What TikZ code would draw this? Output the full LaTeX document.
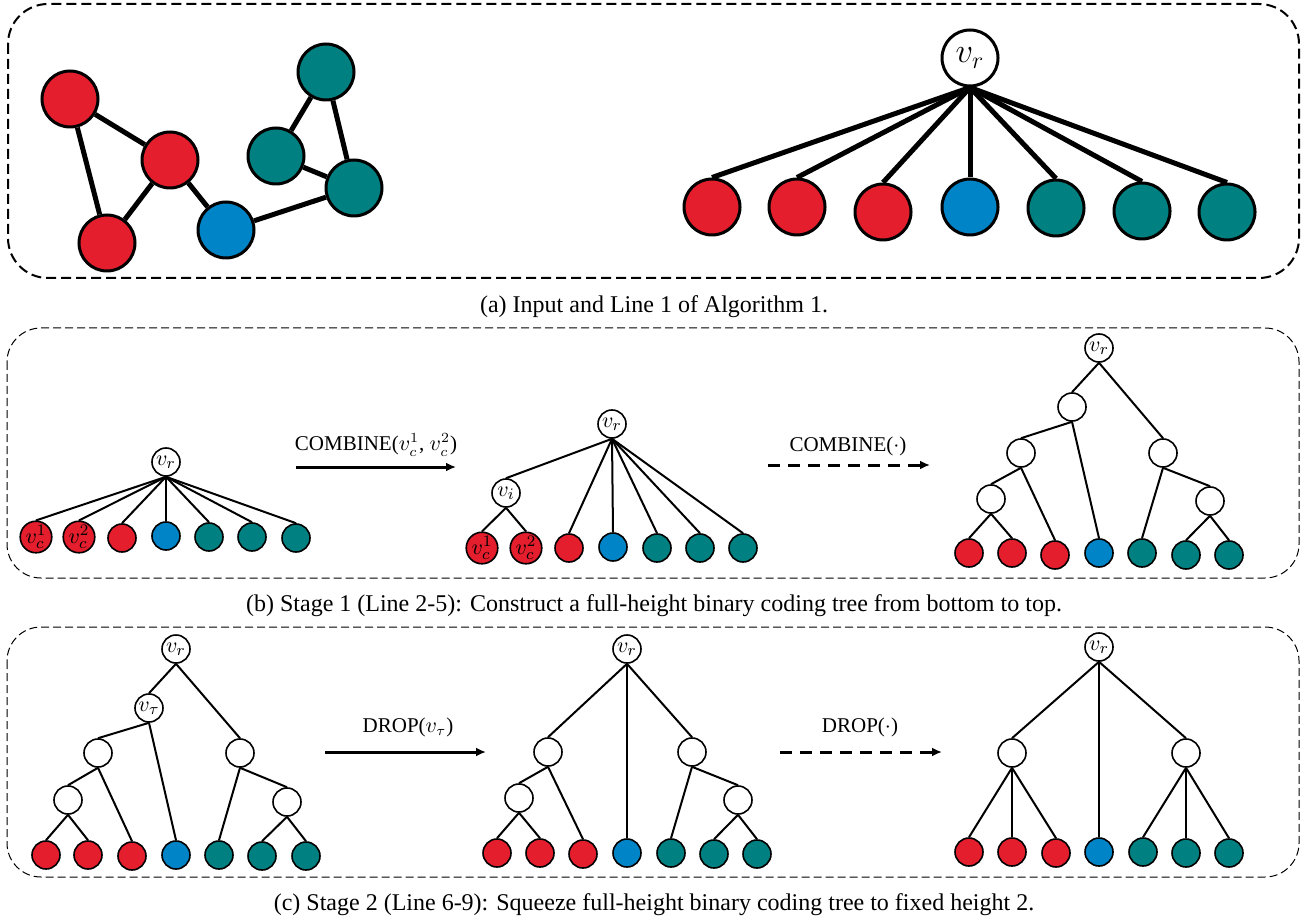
\documentclass[tikz,border=0pt]{standalone}
\usepackage{fontspec}
\setmainfont{Liberation Serif}
\usetikzlibrary{arrows.meta}
\definecolor{nodered}{RGB}{228,30,45}
\definecolor{nodeblue}{RGB}{0,132,200}
\definecolor{nodeteal}{RGB}{0,128,128}

\begin{document}
\begin{tikzpicture}[x=0.5pt,y=-0.5pt]
\tikzset{edge/.style = {-, line width=2.5pt}}
\tikzset{vertex/.style = {shape=circle, draw, line width=1.5pt, minimum size=28pt, inner sep=0pt, font=\fontsize{17}{20}\selectfont}}
\tikzset{link/.style = {-, line width=1pt}}
\tikzset{leaf/.style = {shape=circle, draw, line width=0.8pt, minimum size=14pt, inner sep=0pt, font=\fontsize{11}{12}\selectfont}}
\tikzset{bigframe/.style = {dash pattern=on 5pt off 2.5pt, line width=1pt, rounded corners=20pt}}
\tikzset{frame/.style = {dash pattern=on 4pt off 2pt, line width=0.5pt, rounded corners=17pt}}
\tikzset{flow/.style = {-{Latex[length=5pt,width=4.5pt]}, line width=1.5pt}}
\tikzset{dflow/.style = {flow, dash pattern=on 6pt off 4pt}}
\tikzset{caption/.style = {font=\fontsize{12}{14}\selectfont}}
\tikzset{opname/.style = {font=\fontsize{10.5}{12}\selectfont}}
\useasboundingbox (0,0) rectangle (1309,924);

% (a) input graph and star tree
\draw[bigframe] (8,4) rectangle (1299,278);
\node[vertex, fill=nodered](a1) at (70,99) {};
\node[vertex, fill=nodered](a2) at (170,160) {};
\node[vertex, fill=nodered](a3) at (107,243) {};
\node[vertex, fill=nodeblue](a4) at (226,230) {};
\node[vertex, fill=nodeteal](a5) at (326,72) {};
\node[vertex, fill=nodeteal](a6) at (276,156) {};
\node[vertex, fill=nodeteal](a7) at (354,188) {};
\draw[edge] (a1) to (a2);
\draw[edge] (a1) to (a3);
\draw[edge] (a2) to (a3);
\draw[edge] (a2) to (a4);
\draw[edge] (a4) to (a7);
\draw[edge] (a6) to (a7);
\draw[edge] (a6) to (a5);
\draw[edge] (a5) to (a7);

\node[vertex, fill=white](r0) at (970,58) {$v_r$};
\node[vertex, fill=nodered](r1) at (712,207) {};
\node[vertex, fill=nodered](r2) at (797,207) {};
\node[vertex, fill=nodered](r3) at (883,212) {};
\node[vertex, fill=nodeblue](r4) at (970,207) {};
\node[vertex, fill=nodeteal](r5) at (1056,208) {};
\node[vertex, fill=nodeteal](r6) at (1142,211) {};
\node[vertex, fill=nodeteal](r7) at (1227,212) {};
\draw[edge] (r0.south) to (r1.north);
\draw[edge] (r0.south) to (r2.north);
\draw[edge] (r0.south) to (r3.north);
\draw[edge] (r0.south) to (r4.north);
\draw[edge] (r0.south) to (r5.north);
\draw[edge] (r0.south) to (r6.north);
\draw[edge] (r0.south) to (r7.north);
\node[caption](capa) at (654,307) {(a) Input and Line 1 of Algorithm 1.};

% (b) stage 1
\draw[frame] (7,328) rectangle (1299,578);
\node[leaf, fill=white](b0) at (166,462) {$v_r$};
\node[leaf, fill=nodered](b1) at (36,537) {$v_c^1$};
\node[leaf, fill=nodered](b2) at (79,537) {$v_c^2$};
\node[leaf, fill=nodered](b3) at (122,538) {};
\node[leaf, fill=nodeblue](b4) at (166,536) {};
\node[leaf, fill=nodeteal](b5) at (209,537) {};
\node[leaf, fill=nodeteal](b6) at (252,537) {};
\node[leaf, fill=nodeteal](b7) at (296,538) {};
\draw[link] (b0.south) to (b1.north);
\draw[link] (b0.south) to (b2.north);
\draw[link] (b0.south) to (b3.north);
\draw[link] (b0.south) to (b4.north);
\draw[link] (b0.south) to (b5.north);
\draw[link] (b0.south) to (b6.north);
\draw[link] (b0.south) to (b7.north);

\coordinate (s1) at (296,467);
\coordinate (e1) at (456,467);
\draw[flow] (s1) -- (e1);
\node[opname](op1) at (376,445) {COMBINE($v_c^1$, $v_c^2$)};

\node[leaf, fill=white](m0) at (612,424) {$v_r$};
\node[leaf, fill=white](mi) at (506,493) {$v_i$};
\node[leaf, fill=nodered](m1) at (482,548) {$v_c^1$};
\node[leaf, fill=nodered](m2) at (526,548) {$v_c^2$};
\node[leaf, fill=nodered](m3) at (569,548) {};
\node[leaf, fill=nodeblue](m4) at (613,547) {};
\node[leaf, fill=nodeteal](m5) at (657,548) {};
\node[leaf, fill=nodeteal](m6) at (700,548) {};
\node[leaf, fill=nodeteal](m7) at (743,548) {};
\draw[link] (m0.south) to (mi.north);
\draw[link] (m0.south) to (m3.north);
\draw[link] (m0.south) to (m4.north);
\draw[link] (m0.south) to (m5.north);
\draw[link] (m0.south) to (m6.north);
\draw[link] (m0.south) to (m7.north);
\draw[link] (mi.south) to (m1.north);
\draw[link] (mi.south) to (m2.north);

\coordinate (s2) at (768,465);
\coordinate (e2) at (930,465);
\draw[dflow] (s2) -- (e2);
\node[opname](op2) at (848,446) {COMBINE($\cdot$)};

\node[leaf, fill=white](n0) at (1099,348) {$v_r$};
\node[leaf, fill=white](n1) at (1072,407) {};
\node[leaf, fill=white](n2) at (1021,453) {};
\node[leaf, fill=white](n3) at (1163,453) {};
\node[leaf, fill=white](n4) at (991,499) {};
\node[leaf, fill=white](n5) at (1210,501) {};
\node[leaf, fill=nodered](l1) at (969,553) {};
\node[leaf, fill=nodered](l2) at (1012,553) {};
\node[leaf, fill=nodered](l3) at (1055,555) {};
\node[leaf, fill=nodeblue](l4) at (1099,553) {};
\node[leaf, fill=nodeteal](l5) at (1142,553) {};
\node[leaf, fill=nodeteal](l6) at (1186,555) {};
\node[leaf, fill=nodeteal](l7) at (1229,555) {};
\draw[link] (n0.south) to (n1.north);
\draw[link] (n0.south) to (n3.north);
\draw[link] (n1.south) to (n2.north);
\draw[link] (n1.south) to (l4.north);
\draw[link] (n2.south) to (n4.north);
\draw[link] (n2.south) to (l3.north);
\draw[link] (n4.south) to (l1.north);
\draw[link] (n4.south) to (l2.north);
\draw[link] (n3.south) to (l5.north);
\draw[link] (n3.south) to (n5.north);
\draw[link] (n5.south) to (l6.north);
\draw[link] (n5.south) to (l7.north);
\node[caption](capb) at (654,606) {(b) Stage 1 (Line 2-5): Construct a full-height binary coding tree from bottom to top.};

% (c) stage 2
\draw[frame] (7,627) rectangle (1299,877);
\node[leaf, fill=white](c0) at (176,649) {$v_r$};
\node[leaf, fill=white](ct) at (149,708) {$v_\tau$};
\node[leaf, fill=white](c2) at (98,753) {};
\node[leaf, fill=white](c3) at (240,753) {};
\node[leaf, fill=white](c4) at (68,800) {};
\node[leaf, fill=white](c5) at (287,802) {};
\node[leaf, fill=nodered](k1) at (46,855) {};
\node[leaf, fill=nodered](k2) at (88,855) {};
\node[leaf, fill=nodered](k3) at (132,856) {};
\node[leaf, fill=nodeblue](k4) at (176,855) {};
\node[leaf, fill=nodeteal](k5) at (219,855) {};
\node[leaf, fill=nodeteal](k6) at (262,856) {};
\node[leaf, fill=nodeteal](k7) at (306,856) {};
\draw[link] (c0.south) to (ct.north);
\draw[link] (c0.south) to (c3.north);
\draw[link] (ct.south) to (c2.north);
\draw[link] (ct.south) to (k4.north);
\draw[link] (c2.south) to (c4.north);
\draw[link] (c2.south) to (k3.north);
\draw[link] (c4.south) to (k1.north);
\draw[link] (c4.south) to (k2.north);
\draw[link] (c3.south) to (k5.north);
\draw[link] (c3.south) to (c5.north);
\draw[link] (c5.south) to (k6.north);
\draw[link] (c5.south) to (k7.north);

\coordinate (s3) at (325,752);
\coordinate (e3) at (486,752);
\draw[flow] (s3) -- (e3);
\node[opname](op3) at (408,727) {DROP($v_\tau$)};

\node[leaf, fill=white](d0) at (627,649) {$v_r$};
\node[leaf, fill=white](d2) at (548,752) {};
\node[leaf, fill=white](d3) at (692,752) {};
\node[leaf, fill=white](d4) at (519,798) {};
\node[leaf, fill=white](d5) at (738,800) {};
\node[leaf, fill=nodered](g1) at (497,853) {};
\node[leaf, fill=nodered](g2) at (540,853) {};
\node[leaf, fill=nodered](g3) at (583,854) {};
\node[leaf, fill=nodeblue](g4) at (627,853) {};
\node[leaf, fill=nodeteal](g5) at (671,853) {};
\node[leaf, fill=nodeteal](g6) at (714,854) {};
\node[leaf, fill=nodeteal](g7) at (757,854) {};
\draw[link] (d0.south) to (d2.north);
\draw[link] (d0.south) to (g4.north);
\draw[link] (d0.south) to (d3.north);
\draw[link] (d2.south) to (d4.north);
\draw[link] (d2.south) to (g3.north);
\draw[link] (d4.south) to (g1.north);
\draw[link] (d4.south) to (g2.north);
\draw[link] (d3.south) to (g5.north);
\draw[link] (d3.south) to (d5.north);
\draw[link] (d5.south) to (g6.north);
\draw[link] (d5.south) to (g7.north);

\coordinate (s4) at (780,752);
\coordinate (e4) at (942,752);
\draw[dflow] (s4) -- (e4);
\node[opname](op4) at (860,727) {DROP($\cdot$)};

\node[leaf, fill=white](e0) at (1099,647) {$v_r$};
\node[leaf, fill=white](e2) at (1012,753) {};
\node[leaf, fill=white](e3) at (1186,753) {};
\node[leaf, fill=nodered](h1) at (969,852) {};
\node[leaf, fill=nodered](h2) at (1012,852) {};
\node[leaf, fill=nodered](h3) at (1056,853) {};
\node[leaf, fill=nodeblue](h4) at (1099,852) {};
\node[leaf, fill=nodeteal](h5) at (1143,852) {};
\node[leaf, fill=nodeteal](h6) at (1186,853) {};
\node[leaf, fill=nodeteal](h7) at (1229,853) {};
\draw[link] (e0.south) to (e2.north);
\draw[link] (e0.south) to (h4.north);
\draw[link] (e0.south) to (e3.north);
\draw[link] (e2.south) to (h1.north);
\draw[link] (e2.south) to (h2.north);
\draw[link] (e2.south) to (h3.north);
\draw[link] (e3.south) to (h5.north);
\draw[link] (e3.south) to (h6.north);
\draw[link] (e3.south) to (h7.north);
\node[caption](capc) at (654,905) {(c) Stage 2 (Line 6-9): Squeeze full-height binary coding tree to fixed height 2.};
\end{tikzpicture}
\end{document}
